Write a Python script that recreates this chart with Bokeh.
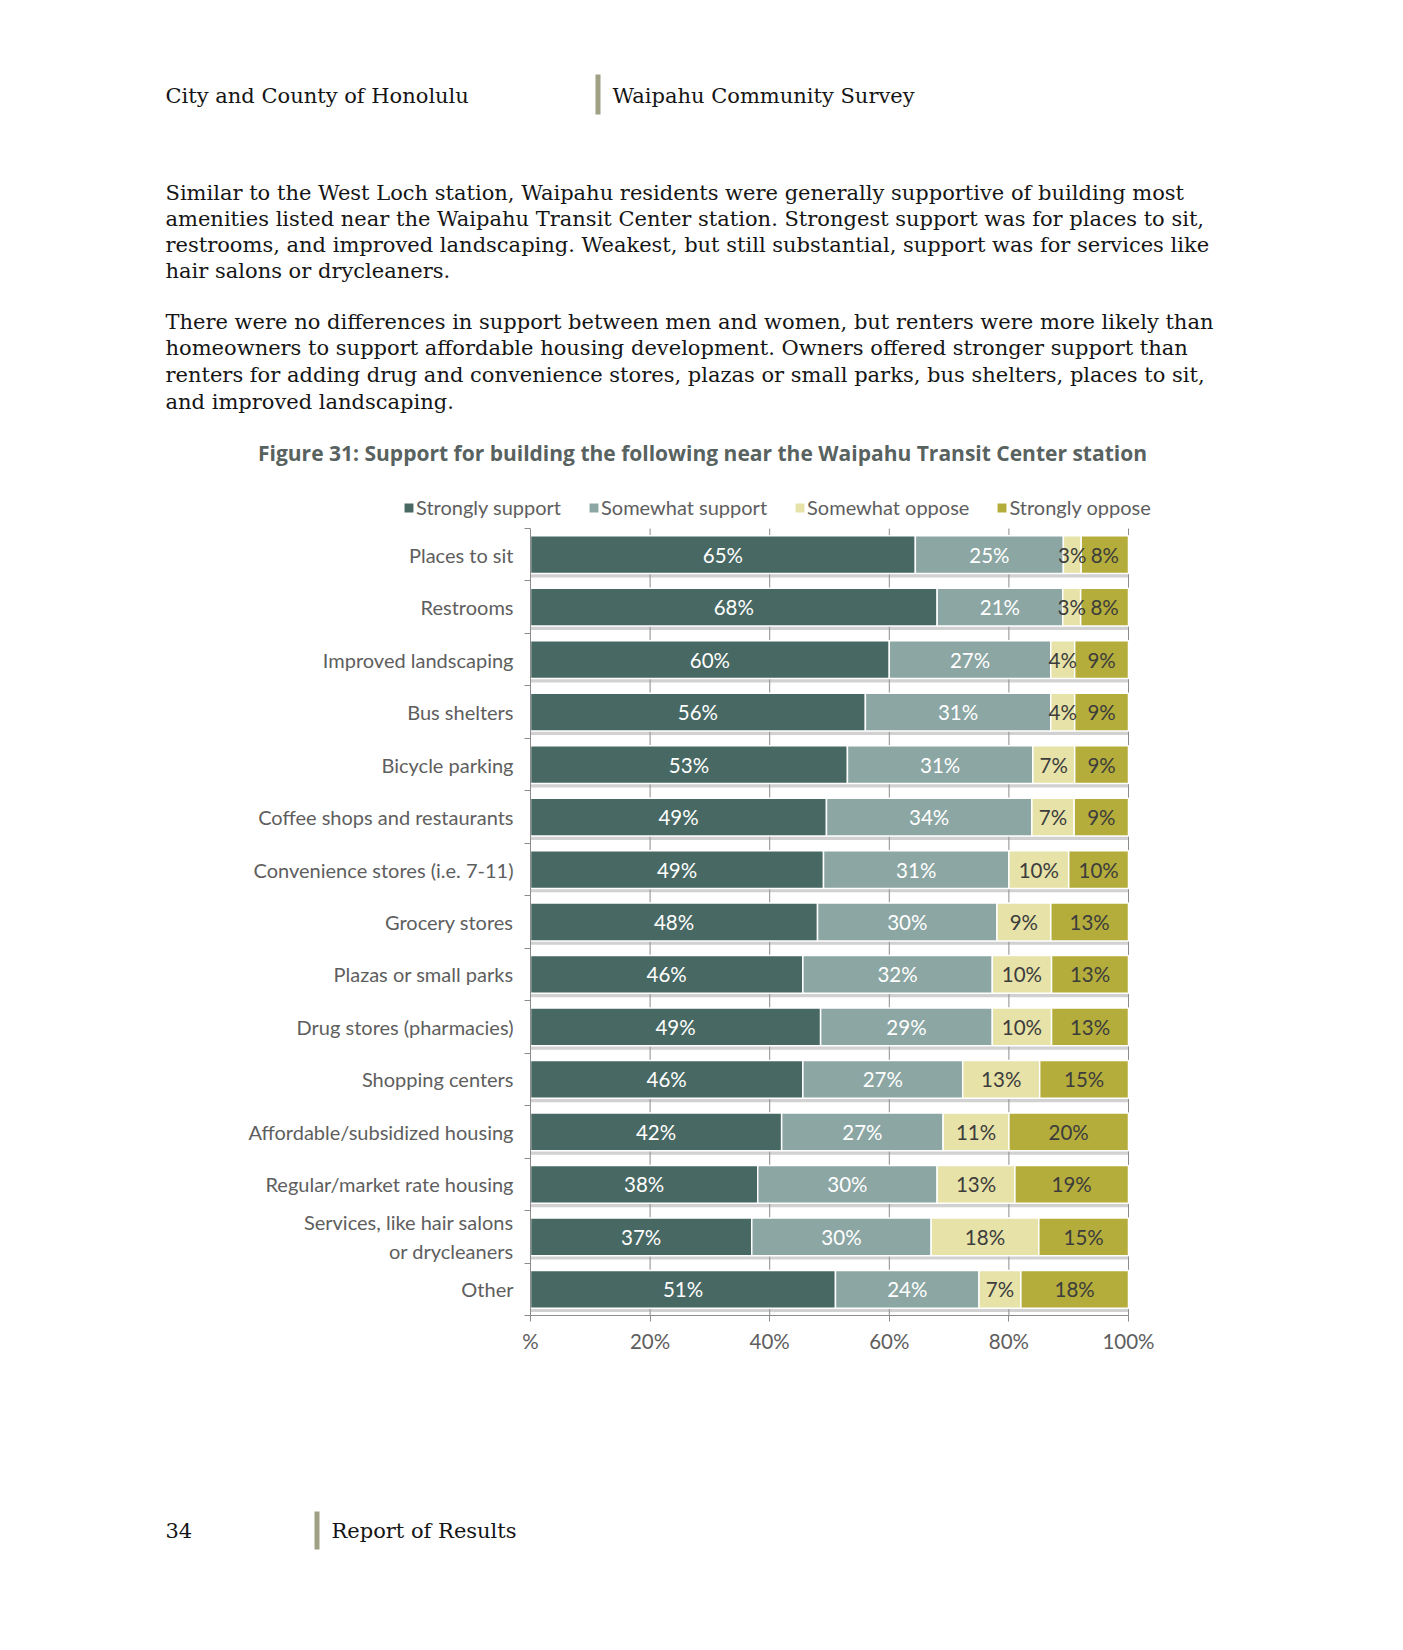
from bokeh.plotting import figure
from bokeh.models import (ColumnDataSource, Range1d, LinearAxis, FixedTicker, Legend, LegendItem)
from bokeh.core.properties import value
from bokeh.embed import file_html
from bokeh.resources import INLINE

# ---------------- data ----------------
categories = [
    "Places to sit",
    "Restrooms",
    "Improved landscaping",
    "Bus shelters",
    "Bicycle parking",
    "Coffee shops and restaurants",
    "Convenience stores (i.e. 7-11)",
    "Grocery stores",
    "Plazas or small parks",
    "Drug stores (pharmacies)",
    "Shopping centers",
    "Affordable/subsidized housing",
    "Regular/market rate housing",
    "Services, like hair salons\nor drycleaners",
    "Other",
]
strongly_support = [65, 68, 60, 56, 53, 49, 49, 48, 46, 49, 46, 42, 38, 37, 51]
somewhat_support = [25, 21, 27, 31, 31, 34, 31, 30, 32, 29, 27, 27, 30, 30, 24]
somewhat_oppose = [3, 3, 4, 4, 7, 7, 10, 9, 10, 10, 13, 11, 13, 18, 7]
strongly_oppose = [8, 8, 9, 9, 9, 9, 10, 13, 13, 13, 15, 20, 19, 15, 18]
series_names = ["Strongly support", "Somewhat support", "Somewhat oppose", "Strongly oppose"]
x_ticks = [0, 20, 40, 60, 80, 100]
x_tick_labels = ["%", "20%", "40%", "60%", "80%", "100%"]

title_text = "Figure 31: Support for building the following near the Waipahu Transit Center station"
header_left = "City and County of Honolulu"
header_right = "Waipahu Community Survey"
para1 = [
    "Similar to the West Loch station, Waipahu residents were generally supportive of building most",
    "amenities listed near the Waipahu Transit Center station.  Strongest support was for places to sit,",
    "restrooms, and improved landscaping. Weakest, but still substantial, support was for services like",
    "hair salons or drycleaners.",
]
para2 = [
    "There were no differences in support between men and women, but renters were more likely than",
    "homeowners to support affordable housing development. Owners offered stronger support than",
    "renters for adding drug and convenience stores, plazas or small parks, bus shelters, places to sit,",
    "and improved landscaping.",
]
footer_page = "34"
footer_text = "Report of Results"

# ---------------- styles / page geometry ----------------
COLORS = ["#476863", "#8ba6a3", "#e6e2a8", "#b4ad3b"]
LABEL_COLORS = ["#ffffff", "#ffffff", "#3c3c3c", "#3c3c3c"]
GRAY = "#5e5e5e"
AXIS_GRAY = "#8c8c8c"
BAR_ACCENT = "#a0a084"
SANS = "Lato"
TITLE_FONT = "Open Sans"
SERIF = "DejaVu Serif"
INK = "#151515"

W, H = 1387, 1630
CH_L, CH_R = 530.0, 1128.0      # page x of 0% and 100%
CH_T, CH_B = 528.0, 1315.0      # page y of chart top / bottom
n = len(categories)
SX = (CH_R - CH_L) / 100.0
SY = (CH_B - CH_T) / n
BAR_H = 0.72
SHADOW_OFF = 0.075


def X(px):
    return (px - CH_L) / SX


def Y(py):
    return (CH_B - py) / SY


# ---------------- build source ----------------
ypos = [n - i - 0.5 for i in range(n)]
series = [strongly_support, somewhat_support, somewhat_oppose, strongly_oppose]
keys = ["ss", "ws", "wo", "so"]
totals = [sum(v) for v in zip(*series)]
data = {"y": ypos, "y_sh": [y - SHADOW_OFF for y in ypos]}
for k, s in zip(keys, series):
    data[k] = [v * 100.0 / t for v, t in zip(s, totals)]
    data[k + "_lbl"] = ["%d%%" % v for v in s]
cum = [0.0] * n
for k in keys:
    data[k + "_mid"] = [c + v / 2.0 for c, v in zip(cum, data[k])]
    cum = [c + v for c, v in zip(cum, data[k])]
    data[k + "_left"] = [c - v for c, v in zip(cum, data[k])]
    data[k + "_right"] = list(cum)
data["total"] = list(cum)
data["zero"] = [0.0] * n
src = ColumnDataSource(data)

p = figure(width=W, height=H, output_backend="svg", toolbar_location=None,
           x_range=Range1d(X(0), X(W)), y_range=Range1d(Y(H), Y(0)),
           x_axis_location=None, y_axis_location=None,
           min_border=0, min_border_left=0, min_border_right=0, min_border_top=0, min_border_bottom=0)
p.outline_line_color = None
p.grid.visible = False

# vertical grid lines (only within the chart area)
p.segment(x0=x_ticks[1:], y0=[0] * (len(x_ticks) - 1), x1=x_ticks[1:], y1=[n] * (len(x_ticks) - 1),
          line_color=AXIS_GRAY, line_width=1)

# bottom axis at y = 0
xa = LinearAxis(fixed_location=0, bounds=(0, 100), ticker=FixedTicker(ticks=x_ticks),
                major_label_overrides={t: l for t, l in zip(x_ticks, x_tick_labels)},
                major_tick_out=6, major_tick_in=0, minor_tick_line_color=None,
                axis_line_color=AXIS_GRAY, major_tick_line_color=AXIS_GRAY,
                major_label_text_font=SANS, major_label_text_font_size="20.5px",
                major_label_text_color=GRAY, major_label_standoff=7)
p.add_layout(xa, "below")

# left axis at x = 0: boundary ticks, then category labels
bounds = list(range(n + 1))
tick_ax = LinearAxis(fixed_location=0, bounds=(0, n), ticker=FixedTicker(ticks=bounds),
                     major_label_overrides={b: "" for b in bounds},
                     major_tick_out=6, major_tick_in=0, minor_tick_line_color=None,
                     axis_line_color=AXIS_GRAY, major_tick_line_color=AXIS_GRAY,
                     major_label_standoff=0)
p.add_layout(tick_ax, "left")
cat_ax = LinearAxis(fixed_location=0, ticker=FixedTicker(ticks=ypos),
                    major_label_overrides={y: c for y, c in zip(ypos, categories)},
                    axis_line_color=None, major_tick_line_color=None, minor_tick_line_color=None,
                    major_tick_out=0, major_tick_in=0,
                    major_label_standoff=17, major_label_text_font=SANS,
                    major_label_text_font_size="20px", major_label_text_color=GRAY)
p.add_layout(cat_ax, "left")

# shadows and bars
p.hbar(y="y_sh", left="zero", right="total", height=BAR_H, source=src,
       fill_color="#9a9a9a", fill_alpha=0.45, line_color=None)
renderers = []
for k, c in zip(keys, COLORS):
    r = p.hbar(y="y", left=k + "_left", right=k + "_right", height=BAR_H, source=src,
               fill_color=c, line_color="white", line_width=1.5)
    renderers.append(r)
for k, tc in zip(keys, LABEL_COLORS):
    p.text(x=k + "_mid", y="y", text=k + "_lbl", source=src, text_align="center",
           text_baseline="middle", text_font=value(SANS), text_font_size="20.5px", text_color=tc)

# legend above the chart
leg = Legend(items=[LegendItem(label=nm, renderers=[r]) for nm, r in zip(series_names, renderers)],
             orientation="horizontal", location=(402, H - 519),
             glyph_width=13, glyph_height=13, label_standoff=1, spacing=26, padding=0, margin=0,
             border_line_color=None, background_fill_alpha=0, label_text_font=SANS,
             label_text_font_size="20px", label_text_color=GRAY, label_height=22)
p.add_layout(leg, "center")


# ---------------- page texts ----------------
def put(px, py, texts, font, size, color, style="normal", align="left", dy=0.0):
    p.text(x=[X(px)] * len(texts), y=[Y(py + i * dy) for i in range(len(texts))], text=texts,
           text_font=value(font), text_font_size=size, text_color=color,
           text_font_style=style, text_align=align, text_baseline="middle")


def accent(px, py0, py1):
    p.quad(left=[X(px)], right=[X(px + 5)], top=[Y(py0)], bottom=[Y(py1)],
           fill_color=BAR_ACCENT, line_color=None)


put(165, 95, [header_left], SERIF, "21px", INK)
put(612, 95, [header_right], SERIF, "21px", INK)
accent(595, 74, 114)
put(165, 192, para1, SERIF, "21px", INK, dy=26.3)
put(165, 321, para2, SERIF, "21px", INK, dy=26.9)
put(702, 452, [title_text], TITLE_FONT, "21px", "#58625f", style="bold", align="center")
put(165, 1530, [footer_page], SERIF, "21px", INK)
put(331, 1530, [footer_text], SERIF, "21px", INK)
accent(314, 1511, 1549)

open("out.html", "w").write(file_html(p, INLINE))
